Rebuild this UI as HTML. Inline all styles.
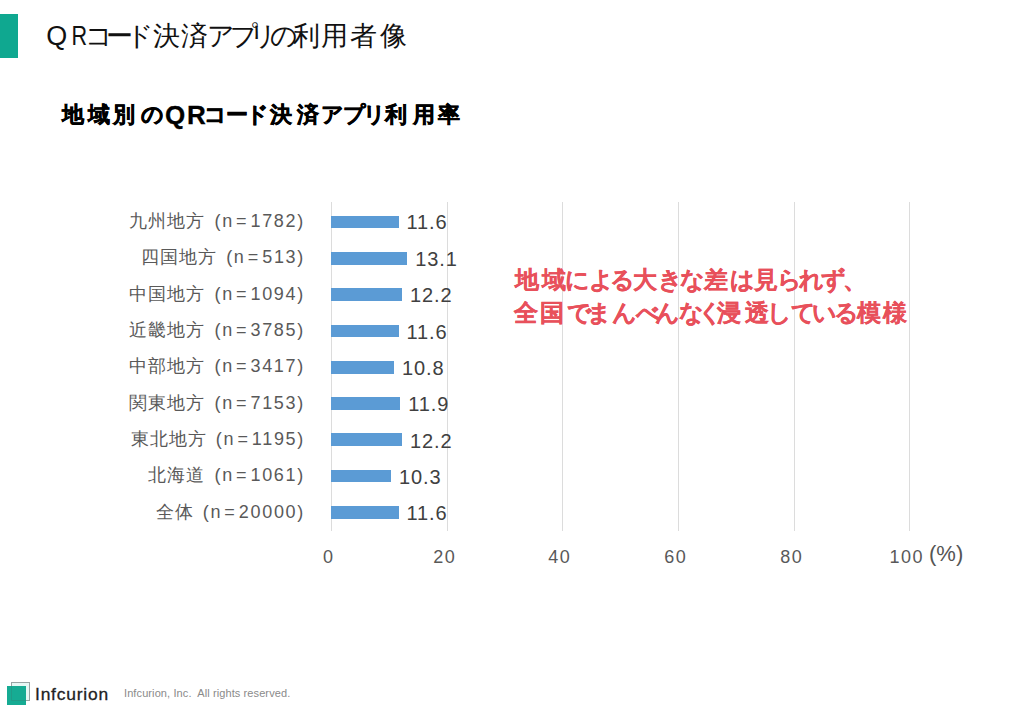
<!DOCTYPE html>
<html lang="ja">
<head>
<meta charset="utf-8">
<style>
html,body{margin:0;padding:0;background:#fff;}
body{width:1024px;height:709px;position:relative;overflow:hidden;font-family:"Liberation Sans",sans-serif;}
.a{position:absolute;white-space:nowrap;}
#gbar{left:0;top:14px;width:17.5px;height:44px;background:#0fa890;}
#title span{position:absolute;top:23px;font-size:27px;line-height:27px;color:#111;white-space:nowrap;}
#sub span{position:absolute;top:103.8px;font-size:22.3px;line-height:22.3px;font-weight:bold;color:#000;white-space:nowrap;-webkit-text-stroke:0.5px #000;}
#sub span.qr{top:102px;font-size:26px;line-height:26px;-webkit-text-stroke:0.3px #000;}
.lbl{right:719px;font-size:18px;line-height:22px;color:#595959;}
.k{letter-spacing:1px;}
.n{letter-spacing:1.7px;margin-left:9px;}
.n i{font-style:normal;letter-spacing:3.9px;}
.bar{left:331px;height:12.8px;background:#5b9bd5;}
.val{font-size:20px;letter-spacing:0.9px;line-height:24px;color:#404040;}
.grid{top:202px;width:1px;height:329px;background:#dcdcdc;}
.ax{top:546px;font-size:18px;line-height:22px;color:#595959;width:60px;text-align:center;letter-spacing:1.5px;text-indent:1.5px;}
#pct{left:929px;top:541px;font-size:22px;line-height:26px;color:#555;}
#note span{position:absolute;font-size:23.5px;line-height:23.5px;font-weight:bold;color:#e8505b;white-space:nowrap;-webkit-text-stroke:0.2px #e8505b;}
#logo1{left:7px;top:686px;width:19px;height:19px;background:#16ab93;}
#logo1 i{position:absolute;left:4px;top:0;width:15px;height:15px;border-left:1px solid #2a8c7c;border-bottom:1px solid #2a8c7c;box-sizing:border-box;opacity:.5}
#logo2{left:11px;top:682px;width:17px;height:17px;border:1px solid #98a4a4;background:#e6f7f4;}
#brand{left:35px;top:684px;font-size:17.4px;letter-spacing:0.8px;line-height:20px;color:#222;-webkit-text-stroke:0.3px #222;}
#copy{left:124px;top:686px;font-size:11px;letter-spacing:0.1px;line-height:14px;color:#8a8a8a;}
</style>
</head>
<body>
<div class="a" id="gbar"></div>
<div id="title"><span style="left:46.3px">Q</span><span style="left:70.8px;transform:scaleX(0.8);transform-origin:2px 0">R</span><span style="left:85.2px">コ</span><span style="left:105.6px">ー</span><span style="left:126.1px">ド</span><span style="left:152.9px">決</span><span style="left:181px">済</span><span style="left:207.2px">ア</span><span style="left:230.2px">プ</span><span style="left:248.7px">リ</span><span style="left:269.8px">の</span><span style="left:292.8px">利</span><span style="left:321px">用</span><span style="left:350px">者</span><span style="left:379.5px">像</span></div>
<div id="sub"><span style="left:61.9px">地</span><span style="left:87.6px">域</span><span style="left:113px">別</span><span style="left:141.4px">の</span><span class="qr" style="left:165.1px">Q</span><span class="qr" style="left:186.9px">R</span><span style="left:204.1px">コ</span><span style="left:225.6px">ー</span><span style="left:245.5px">ド</span><span style="left:269.9px">決</span><span style="left:296.9px">済</span><span style="left:321.2px">ア</span><span style="left:342.9px">プ</span><span style="left:363.2px">リ</span><span style="left:385.2px">利</span><span style="left:412.7px">用</span><span style="left:437.9px">率</span></div>

<div class="a grid" style="left:331px"></div>
<div class="a grid" style="left:447px"></div>
<div class="a grid" style="left:562px"></div>
<div class="a grid" style="left:678px"></div>
<div class="a grid" style="left:794px"></div>
<div class="a grid" style="left:909px"></div>

<div class="a lbl" style="top:210px"><span class="k">九州地方</span><span class="n">(<i>n=</i>1782)</span></div>
<div class="a lbl" style="top:246px"><span class="k">四国地方</span><span class="n">(<i>n=</i>513)</span></div>
<div class="a lbl" style="top:283px"><span class="k">中国地方</span><span class="n">(<i>n=</i>1094)</span></div>
<div class="a lbl" style="top:319px"><span class="k">近畿地方</span><span class="n">(<i>n=</i>3785)</span></div>
<div class="a lbl" style="top:355px"><span class="k">中部地方</span><span class="n">(<i>n=</i>3417)</span></div>
<div class="a lbl" style="top:392px"><span class="k">関東地方</span><span class="n">(<i>n=</i>7153)</span></div>
<div class="a lbl" style="top:428px"><span class="k">東北地方</span><span class="n">(<i>n=</i>1195)</span></div>
<div class="a lbl" style="top:464px"><span class="k">北海道</span><span class="n">(<i>n=</i>1061)</span></div>
<div class="a lbl" style="top:501px"><span class="k">全体</span><span class="n">(<i>n=</i>20000)</span></div>
<div class="a bar" style="top:215.7px;width:67.5px"></div>
<div class="a bar" style="top:252.0px;width:76.2px"></div>
<div class="a bar" style="top:288.2px;width:71.0px"></div>
<div class="a bar" style="top:324.5px;width:67.5px"></div>
<div class="a bar" style="top:360.8px;width:62.9px"></div>
<div class="a bar" style="top:397.1px;width:69.3px"></div>
<div class="a bar" style="top:433.3px;width:71.0px"></div>
<div class="a bar" style="top:469.6px;width:60.0px"></div>
<div class="a bar" style="top:505.9px;width:67.5px"></div>
<div class="a val" style="left:406.5px;top:210px">11.6</div>
<div class="a val" style="left:415.2px;top:247px">13.1</div>
<div class="a val" style="left:410.0px;top:283px">12.2</div>
<div class="a val" style="left:406.5px;top:320px">11.6</div>
<div class="a val" style="left:401.9px;top:356px">10.8</div>
<div class="a val" style="left:408.3px;top:392px">11.9</div>
<div class="a val" style="left:410.0px;top:429px">12.2</div>
<div class="a val" style="left:399.0px;top:465px">10.3</div>
<div class="a val" style="left:406.5px;top:501px">11.6</div>

<div class="a ax" style="left:298px">0</div>
<div class="a ax" style="left:414px">20</div>
<div class="a ax" style="left:529px">40</div>
<div class="a ax" style="left:645px">60</div>
<div class="a ax" style="left:761px">80</div>
<div class="a ax" style="left:876px">100</div>
<div class="a" id="pct">(%)</div>

<div id="note"><span style="left:514.9px;top:269.2px">地</span><span style="left:541.5px;top:269.2px">域</span><span style="left:565.2px;top:269.2px">に</span><span style="left:588.5px;top:269.2px">よ</span><span style="left:610.3px;top:269.2px">る</span><span style="left:633.2px;top:269.2px">大</span><span style="left:657.5px;top:269.2px">き</span><span style="left:680.0px;top:269.2px">な</span><span style="left:704.3px;top:269.2px">差</span><span style="left:729.9px;top:269.2px">は</span><span style="left:753.5px;top:269.2px">見</span><span style="left:776.9px;top:269.2px">ら</span><span style="left:799.4px;top:269.2px">れ</span><span style="left:821.3px;top:269.2px">ず</span><span style="left:842.5px;top:269.2px">、</span>
<span style="left:513.9px;top:301.5px">全</span><span style="left:540.2px;top:301.5px">国</span><span style="left:566.9px;top:301.5px">で</span><span style="left:586.5px;top:301.5px">ま</span><span style="left:612.0px;top:301.5px">ん</span><span style="left:635.6px;top:301.5px">べ</span><span style="left:655.4px;top:301.5px">ん</span><span style="left:679.3px;top:301.5px">な</span><span style="left:698.3px;top:301.5px">く</span><span style="left:717.2px;top:301.5px">浸</span><span style="left:744.6px;top:301.5px">透</span><span style="left:766.9px;top:301.5px">し</span><span style="left:791.1px;top:301.5px">て</span><span style="left:812.0px;top:301.5px">い</span><span style="left:833.8px;top:301.5px">る</span><span style="left:857.0px;top:301.5px">模</span><span style="left:883.0px;top:301.5px">様</span></div>

<div class="a" id="logo2"></div>
<div class="a" id="logo1"><i></i></div>
<div class="a" id="brand">Infcurion</div>
<div class="a" id="copy">Infcurion, Inc.&nbsp; All rights reserved.</div>
</body>
</html>
